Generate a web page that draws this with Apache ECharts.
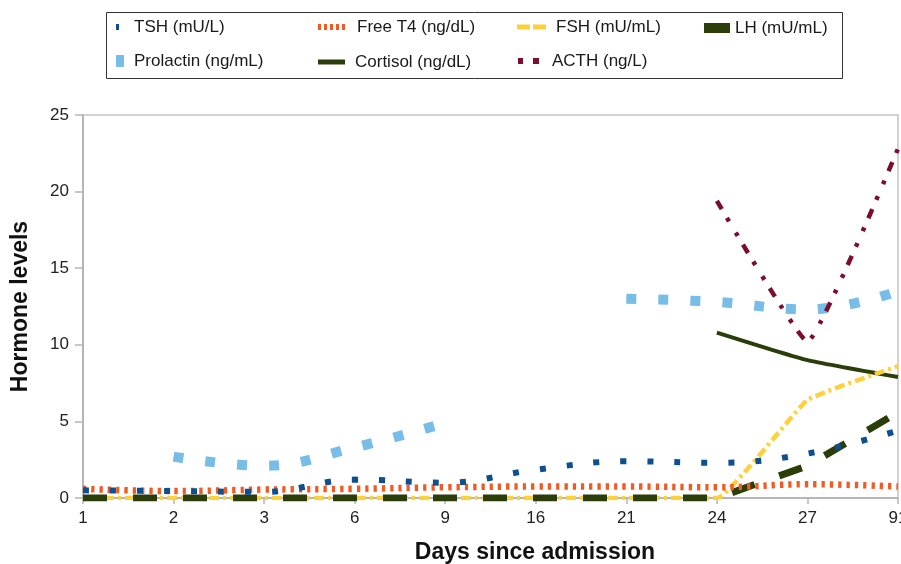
<!DOCTYPE html>
<html>
<head>
<meta charset="utf-8">
<script src="https://cdn.jsdelivr.net/npm/echarts@6/dist/echarts.min.js"></script>
<style>
  html, body { margin: 0; padding: 0; background: #fff; }
  #chart { width: 901px; height: 564px; }
</style>
</head>
<body>
<div id="chart"></div>
<script>
// days since admission (category axis)
var days = ['1', '2', '3', '6', '9', '16', '21', '24', '27', '91'];

// hormone values
var tsh       = [0.5, 0.45, 0.4, 1.2, 1.0, 1.85, 2.4, 2.3, 2.9, 4.4];
var freeT4    = [0.6, 0.45, 0.55, 0.6, 0.7, 0.75, 0.75, 0.7, 0.9, 0.75];
var fsh       = [0, 0, 0, 0, 0, 0, 0, 0, 6.4, 8.6];
var lh        = [0, 0, 0, 0, 0, 0, 0, 0, 2.1, 5.6];
var prolactin = [null, 2.7, 2.1, 3.3, 4.9, null, 13.0, 12.8, 12.3, 13.5];
var cortisol  = [null, null, null, null, null, null, null, 10.8, 9.0, 7.9];
var acth      = [null, null, null, null, null, null, null, 19.4, 10.2, 22.8];

var myChart = echarts.init(document.getElementById('chart'));
var FONT = '"Liberation Sans", Arial, Helvetica, sans-serif';

function line(name, data, color, width, dash, z, smooth) {
  return {
    name: name,
    type: 'line',
    data: data,
    z: z,
    smooth: smooth,
    symbol: 'none',
    connectNulls: false,
    itemStyle: { color: color },
    lineStyle: { color: color, width: width, type: dash, cap: 'butt' }
  };
}

// one legend box per entry so the columns line up like the original
var legendItems = [
  { name: 'TSH (mU/L)', icon: 'rect', w: 3, h: 6, left: 116, cy: 26, gap: 15 },
  { name: 'Free T4 (ng/dL)', icon: 'path://M0,0h3v6h-3zM6,0h3v6h-3zM12,0h3v6h-3zM18,0h3v6h-3zM24,0h3v6h-3z', w: 27, h: 6, left: 318, cy: 26, gap: 12 },
  { name: 'FSH (mU/mL)', icon: 'path://M0,0h13v5h-13zM16,0h13v5h-13z', w: 29, h: 5, left: 517, cy: 26, gap: 10 },
  { name: 'LH (mU/mL)', icon: 'rect', w: 26, h: 10, left: 704, cy: 27, gap: 5 },
  { name: 'Prolactin (ng/mL)', icon: 'rect', w: 8, h: 12, left: 116, cy: 60, gap: 10 },
  { name: 'Cortisol (ng/dL)', icon: 'rect', w: 27, h: 5, left: 318, cy: 61, gap: 10 },
  { name: 'ACTH (ng/L)', icon: 'path://M0,0h5v6h-5zM15,0h6v6h-6z', w: 21, h: 6, left: 518, cy: 60, gap: 13 }
];

var legends = legendItems.map(function (it) {
  return {
    data: [it.name],
    left: it.left,
    top: it.cy - 9,
    padding: 0,
    icon: it.icon,
    itemWidth: it.w,
    itemHeight: it.h,
    itemStyle: { borderWidth: 0 },
    selectedMode: false,
    textStyle: {
      fontFamily: FONT,
      fontSize: 17,
      color: '#1a1a1a',
      lineHeight: 20,
      padding: [0, 0, 0, it.gap - 5]
    }
  };
});

var option = {
  animation: false,
  backgroundColor: '#fff',
  textStyle: { fontFamily: FONT },
  legend: legends,
  graphic: [{
    type: 'rect',
    shape: { x: 106.5, y: 12.5, width: 736, height: 66 },
    style: { fill: 'none', stroke: '#333', lineWidth: 1 },
    silent: true
  }],
  grid: {
    left: 83, right: 3, top: 115, bottom: 66,
    outerBoundsMode: 'none',
    containLabel: false,
    show: true,
    borderColor: '#c4c4c4',
    borderWidth: 1.5
  },
  xAxis: {
    type: 'category',
    data: days,
    boundaryGap: false,
    name: 'Days since admission',
    nameLocation: 'middle',
    nameGap: 43,
    nameTextStyle: { fontSize: 23, fontWeight: 'bold', color: '#111', padding: [0, 0, 0, 89] },
    axisLine: { lineStyle: { color: '#b5b5b5', width: 2 } },
    axisTick: { show: true, length: 6, alignWithLabel: true, lineStyle: { color: '#b5b5b5', width: 1.5 } },
    axisLabel: { fontSize: 17, color: '#222', margin: 12 },
    splitLine: { show: false }
  },
  yAxis: {
    type: 'value',
    min: 0, max: 25, interval: 5,
    name: 'Hormone levels',
    nameLocation: 'middle',
    nameGap: 51,
    nameTextStyle: { fontSize: 23, fontWeight: 'bold', color: '#111' },
    axisLine: { show: true, lineStyle: { color: '#b5b5b5', width: 2 } },
    axisTick: { show: true, length: 8, lineStyle: { color: '#b5b5b5', width: 1.5 } },
    axisLabel: { fontSize: 17, color: '#222', margin: 14 },
    splitLine: { show: false }
  },
  series: [
    line('TSH (mU/L)', tsh, '#0e4f8f', 6, [6, 21], 6, 0.4),
    line('Free T4 (ng/dL)', freeT4, '#f15a22', 6.5, [3.3, 5], 5, 0.4),
    line('FSH (mU/mL)', fsh, '#fdd13b', 4.5, [10, 4, 3, 4], 3, 0.1),
    line('LH (mU/mL)', lh, '#2b3d08', 7, [24, 26], 4, false),
    line('Prolactin (ng/mL)', prolactin, '#77bde8', 10, [10, 22], 2, 0.4),
    line('Cortisol (ng/dL)', cortisol, '#2b3d08', 4, 'solid', 2, 0.15),
    line('ACTH (ng/L)', acth, '#7b0d2f', 4.5, [10, 10, 4, 13, 4, 10], 2, 0.1)
  ]
};

myChart.setOption(option);
</script>
</body>
</html>
